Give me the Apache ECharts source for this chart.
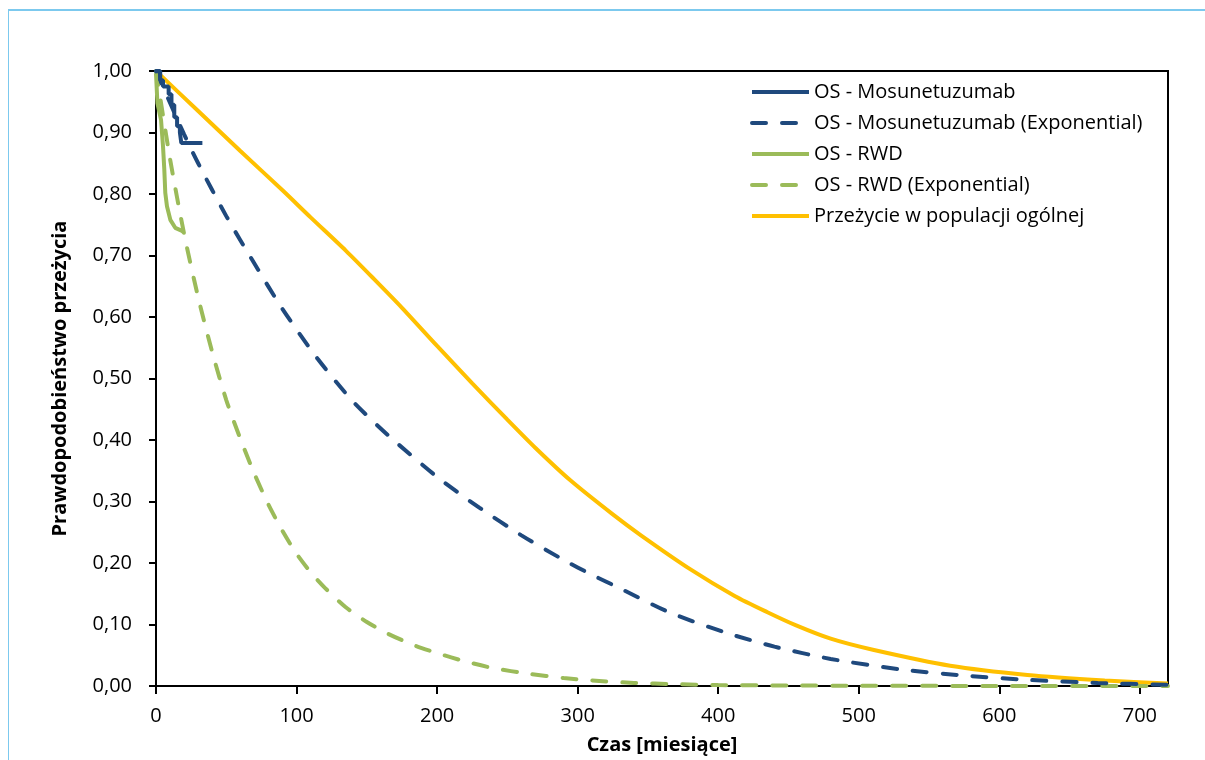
<!DOCTYPE html>
<html>
<head>
<meta charset="utf-8">
<script src="https://cdn.jsdelivr.net/npm/echarts@6/dist/echarts.min.js"></script>
<style>
  html, body { margin: 0; padding: 0; background: #fff; }
  #chart { width: 1205px; height: 760px; }
</style>
</head>
<body>
<div id="chart"></div>
<script>
// values: [month, survival]
const mosunetuzumabKM = [
  [0, 1.0], [3, 0.985], [5, 0.975], [9, 0.962], [11, 0.945], [13, 0.925],
  [15, 0.91], [17, 0.9], [18, 0.883], [33, 0.883]
];
const mosunetuzumabExp = [
  [0, 1.0], [20, 0.897], [30, 0.85], [50, 0.764], [70, 0.687], [90, 0.613],
  [115, 0.532], [140, 0.463], [165, 0.408], [200, 0.34], [230, 0.29],
  [260, 0.245], [290, 0.205], [310, 0.181], [330, 0.159], [365, 0.12],
  [405, 0.087], [440, 0.064], [480, 0.044], [530, 0.027], [575, 0.017],
  [620, 0.010], [670, 0.005], [720, 0.002]
];
const rwdKM = [
  [0, 0.996], [1, 0.948], [3.6, 0.92], [5, 0.877], [5.9, 0.84], [6.6, 0.802],
  [7.8, 0.78], [10.2, 0.758], [13.7, 0.745], [18.5, 0.74], [19.6, 0.738]
];
const rwdExp = [
  [0, 1.0], [10, 0.857], [20, 0.735], [30, 0.632], [40, 0.543], [50, 0.465],
  [60, 0.402], [70, 0.345], [80, 0.295], [90, 0.252], [100, 0.215],
  [110, 0.185], [120, 0.16], [135, 0.128], [150, 0.104], [165, 0.085],
  [185, 0.065], [205, 0.05], [220, 0.04], [240, 0.029], [265, 0.02],
  [290, 0.013], [310, 0.009], [340, 0.005], [370, 0.003], [400, 0.0015],
  [450, 0.0008], [500, 0.0004], [600, 0.0001], [720, 0]
];
const generalPop = [
  [0, 1.0], [30, 0.935], [60, 0.87], [90, 0.806], [110, 0.762], [135, 0.708],
  [155, 0.662], [175, 0.615], [200, 0.553], [225, 0.492], [250, 0.433],
  [270, 0.387], [295, 0.334], [325, 0.279], [345, 0.245], [380, 0.19],
  [412, 0.146], [435, 0.12], [455, 0.099], [480, 0.077], [510, 0.059],
  [565, 0.033], [620, 0.018], [675, 0.009], [720, 0.004]
];

const FONT = 'Open Sans';
const navy = '#1F497D', green = '#9BBB59', gold = '#FFC000';

let myChart = echarts.init(document.getElementById('chart'));
myChart.setOption({
  animation: false,
  textStyle: { fontFamily: FONT },
  graphic: [
    { type: 'line', shape: { x1: 8, y1: 10, x2: 1205, y2: 10 }, style: { stroke: '#7cc9ee', lineWidth: 2 } },
    { type: 'line', shape: { x1: 8.5, y1: 10, x2: 8.5, y2: 760 }, style: { stroke: '#7cc9ee', lineWidth: 1 } }
  ],
  grid: {
    left: 156, top: 71, width: 1012, height: 617,
    show: true, borderColor: '#000', borderWidth: 2
  },
  legend: {
    orient: 'vertical',
    left: 745, top: 77,
    itemWidth: 57, itemHeight: 20, itemGap: 11,
    itemStyle: { opacity: 0 },
    lineStyle: { width: 4 },
    textStyle: { fontFamily: FONT, fontSize: 20, color: '#000' },
    data: [
      'OS - Mosunetuzumab',
      'OS - Mosunetuzumab (Exponential)',
      'OS - RWD',
      'OS - RWD (Exponential)',
      'Przeżycie w populacji ogólnej'
    ]
  },
  xAxis: {
    type: 'value', min: 0, max: 720, interval: 100,
    name: 'Czas [miesiące]', nameLocation: 'middle', nameGap: 49,
    nameTextStyle: { fontFamily: FONT, fontSize: 20, fontWeight: 'bold', color: '#000' },
    axisLine: { lineStyle: { color: '#000', width: 2 } },
    axisTick: { show: true, length: 8, lineStyle: { color: '#000', width: 2 } },
    axisLabel: { margin: 20, fontSize: 20, color: '#000', showMaxLabel: false },
    splitLine: { show: false }
  },
  yAxis: {
    type: 'value', min: 0, max: 1, interval: 0.1,
    name: 'Prawdopodobieństwo przeżycia', nameLocation: 'middle', nameGap: 86,
    nameTextStyle: { fontFamily: FONT, fontSize: 20, fontWeight: 'bold', color: '#000' },
    axisLine: { show: true, lineStyle: { color: '#000', width: 2 } },
    axisTick: { show: true, length: 7, lineStyle: { color: '#000', width: 2 } },
    axisLabel: {
      margin: 24, fontSize: 20, color: '#000',
      formatter: v => v.toFixed(2).replace('.', ',')
    },
    splitLine: { show: false }
  },
  series: [
    {
      name: 'Przeżycie w populacji ogólnej', type: 'line', data: generalPop,
      smooth: 0.25, symbol: 'none', lineStyle: { color: gold, width: 4 },
      itemStyle: { color: gold }, z: 1
    },
    {
      name: 'OS - RWD (Exponential)', type: 'line', data: rwdExp,
      smooth: 0.25, symbol: 'none',
      lineStyle: { color: green, width: 4, type: [14, 16], cap: 'round' },
      itemStyle: { color: green }, z: 2
    },
    {
      name: 'OS - Mosunetuzumab (Exponential)', type: 'line', data: mosunetuzumabExp,
      smooth: 0.25, symbol: 'none',
      lineStyle: { color: navy, width: 4, type: [14, 16], cap: 'round' },
      itemStyle: { color: navy }, z: 3
    },
    {
      name: 'OS - RWD', type: 'line', data: rwdKM,
      symbol: 'none', lineStyle: { color: green, width: 4 },
      itemStyle: { color: green }, z: 4
    },
    {
      name: 'OS - Mosunetuzumab', type: 'line', data: mosunetuzumabKM,
      step: 'end', symbol: 'none', lineStyle: { color: navy, width: 4 },
      itemStyle: { color: navy }, z: 5
    }
  ]
});
</script>
</body>
</html>
